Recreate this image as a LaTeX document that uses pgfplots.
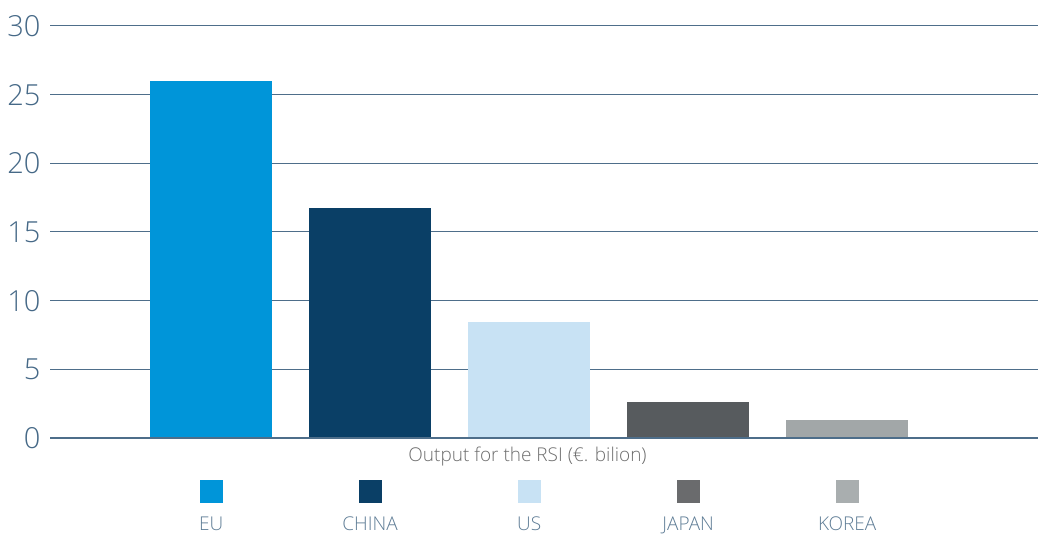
\documentclass[border=0pt]{standalone}
\usepackage{fontspec}
\IfFontExistsTF{Open Sans Light}{\setmainfont{Open Sans Light}}{\setmainfont{Open Sans}}
\usepackage{pgfplots}
\pgfplotsset{compat=1.18}
\definecolor{gridc}{RGB}{78,110,138}
\definecolor{tickc}{RGB}{70,105,135}
\definecolor{legc}{RGB}{95,125,150}
\definecolor{labc}{RGB}{110,110,110}
\definecolor{euc}{RGB}{0,149,217}
\definecolor{chinac}{RGB}{10,63,102}
\definecolor{usc}{RGB}{200,226,244}
\definecolor{japanc}{RGB}{87,91,94}
\definecolor{koreac}{RGB}{162,167,168}
\definecolor{japanl}{RGB}{106,107,109}
\definecolor{koreal}{RGB}{169,174,175}
\begin{document}
\begin{tikzpicture}
\useasboundingbox (0,0) rectangle (1038pt,535pt);
\begin{axis}[
  at={(50pt,97pt)}, anchor=south west,
  scale only axis, width=988pt, height=412pt,
  xmin=-1.013, xmax=5.2, ymin=0, ymax=30,
  ytick={0,5,...,30}, xtick=\empty,
  axis line style={draw=none},
  ymajorgrids, major grid style={gridc, line width=1pt},
  major tick length=0pt,
  yticklabel style={font=\fontsize{29}{30}\selectfont, text=tickc, anchor=east, xshift=-6pt},
  /pgf/number format/assume math mode=true,
  clip=false,
]
\addplot[ybar, bar width=122pt, bar shift=0pt, fill=euc, draw=none] coordinates {(0,26.0)};
\addplot[ybar, bar width=122pt, bar shift=0pt, fill=chinac, draw=none] coordinates {(1,16.75)};
\addplot[ybar, bar width=122pt, bar shift=0pt, fill=usc, draw=none] coordinates {(2,8.45)};
\addplot[ybar, bar width=122pt, bar shift=0pt, fill=japanc, draw=none] coordinates {(3,2.6)};
\addplot[ybar, bar width=122pt, bar shift=0pt, fill=koreac, draw=none] coordinates {(4,1.3)};
\draw[gridc, line width=1.5pt] (axis cs:-1.013,0) -- (axis cs:5.2,0);
\node[text=labc, font=\fontsize{19}{20}\selectfont, anchor=base, inner sep=0pt] at (axis cs:1.99,-1.68) {Output for the RSI (€. bilion)};
\foreach \i/\c/\n in {0/euc/EU,1/chinac/CHINA,2/usc/US,3/japanl/JAPAN,4/koreal/KOREA}{
  \edef\tmp{\noexpand\node[fill=\c, minimum size=23pt, inner sep=0pt] at (axis cs:\i,-3.9) {};
  \noexpand\node[text=legc, font=\noexpand\fontsize{19}{20}\noexpand\selectfont, anchor=base, inner sep=0pt] at (axis cs:\i,-6.74) {\n};}
  \tmp
}
\end{axis}
\end{tikzpicture}
\end{document}
